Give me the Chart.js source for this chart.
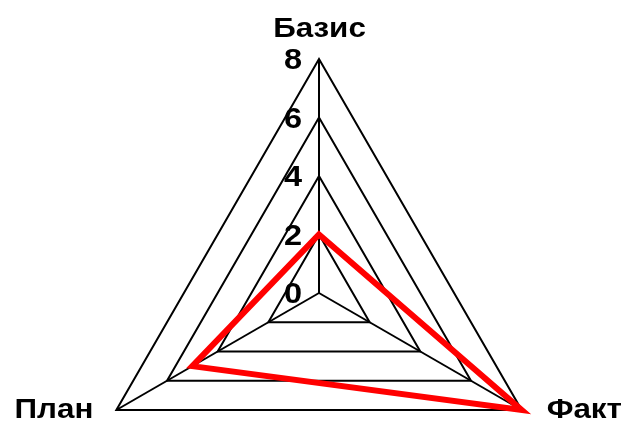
<!DOCTYPE html>
<html>
<head>
<meta charset="utf-8">
<script src="https://cdn.jsdelivr.net/npm/chart.js@4/dist/chart.umd.min.js"></script>
<style>
	html, body { margin: 0; padding: 0; background: #fff; overflow: hidden; }
	#wrap { width: 622px; height: 422px; overflow: hidden; position: relative; }
	#inner { width: 622px; height: 527px; position: absolute; left: 0; top: 0; }
</style>
</head>
<body>
<div id="wrap"><div id="inner"><canvas id="myChart"></canvas></div></div>
<script>
var labels = ["Базис", "Факт", "План"];
var values = [2, 8, 5];
var tickValues = [0, 2, 4, 6, 8];

var font = "Arial, 'Liberation Sans', sans-serif";
var stretch = 1.12;

function drawText(ctx, text, x, y, align)
{
	ctx.save();
	ctx.translate(x, y);
	ctx.scale(stretch, 1);
	ctx.textAlign = align;
	ctx.fillText(text, 0, 0);
	ctx.restore();
}

// tick labels left of the vertical axis, point labels drawn by hand
var labelPlugin = {
	id: "labels",
	afterDraw: function(chart){
		var scale = chart.scales.r;
		var ctx = chart.ctx;
		ctx.save();
		ctx.fillStyle = "#000";
		ctx.textBaseline = "alphabetic";
		ctx.font = "bold 29px " + font;
		for(var i = 0; i < tickValues.length; i++)
		{
			var d = scale.getDistanceFromCenterForValue(tickValues[i]);
			drawText(ctx, String(tickValues[i]), scale.xCenter - 26, scale.yCenter - d + 10, "center");
		}
		ctx.font = "bold 28px " + font;
		var p0 = scale.getPointPositionForValue(0, 8);
		var p1 = scale.getPointPositionForValue(1, 8);
		var p2 = scale.getPointPositionForValue(2, 8);
		drawText(ctx, labels[0], p0.x + 0.5, p0.y - 22, "center");
		drawText(ctx, labels[1], p1.x + 25, p1.y + 8, "left");
		drawText(ctx, labels[2], p2.x - 23, p2.y + 8, "right");
		ctx.restore();
	}
};

var ctx = document.getElementById("myChart");
var mChart = new Chart(ctx, {
	type: 'radar',
	data: {
		labels: labels,
		datasets: [{
			data: values,
			borderColor: "#ff0000",
			borderWidth: 6,
			backgroundColor: "rgba(0,0,0,0)",
			fill: false,
			pointRadius: 0,
			tension: 0
		}]
	},
	options: {
		responsive: true,
		maintainAspectRatio: false,
		animation: false,
		layout: { padding: { top: 59, bottom: 0, left: 16, right: 0 } },
		plugins: {
			legend: { display: false },
			tooltip: { enabled: false }
		},
		scales: {
			r: {
				min: 0,
				max: 8,
				ticks: { stepSize: 2, display: false },
				grid: { color: "#000", lineWidth: 2 },
				angleLines: { color: "#000", lineWidth: 2 },
				pointLabels: { display: false }
			}
		}
	},
	plugins: [labelPlugin]
});
</script>
</body>
</html>
